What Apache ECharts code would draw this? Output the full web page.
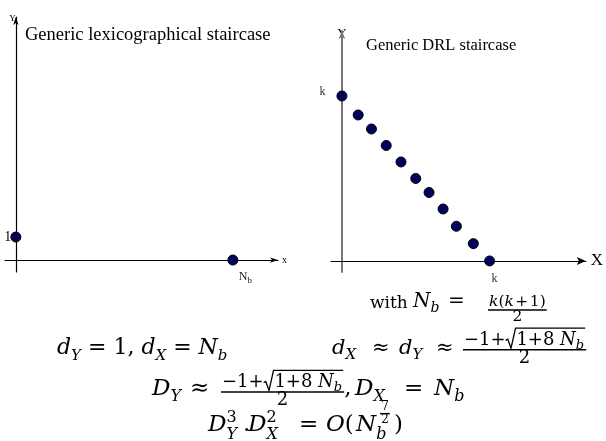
<!DOCTYPE html>
<html>
<head>
<meta charset="utf-8">
<script src="https://cdn.jsdelivr.net/npm/echarts@6/dist/echarts.min.js"></script>
<style>
  html, body { margin: 0; background: #fff; }
  #chart { width: 606px; height: 441px; }
</style>
</head>
<body>
<div id="chart"></div>
<script>
/* ---------- data ---------- */
const titles = ["Generic lexicographical staircase", "Generic DRL staircase"];

// lexicographical staircase: one step of height 1, then run to N_b (N_b drawn at 10)
const lexX = [0, 10];
const lexY = [1, 0];
const lexLabels = ["1", "{n|N}{s|b}"];

// DRL staircase: from (0, k) down to (k, 0), k drawn at 10
const drlX = [0, 1.1, 2.0, 3.0, 4.0, 5.0, 5.9, 6.85, 7.75, 8.9, 10];
const drlY = [10, 8.85, 8.0, 7.0, 6.0, 5.0, 4.15, 3.15, 2.1, 1.05, 0];
const drlLabels = ["k", "", "", "", "", "", "", "", "", "", "k"];

const SERIF = "Liberation Serif";
const DOT = "#00005e";

/* ---------- math text (typeset by hand with graphic elements) ---------- */
const MATH = "DejaVu Serif";
const mctx = document.createElement("canvas").getContext("2d");
const MID = 0.34; // baseline -> middle of em box, as a fraction of size

function textW(t, size, it) {
  mctx.font = (it ? "italic " : "") + size + 'px "' + MATH + '"';
  return mctx.measureText(t).width;
}

function putText(out, t, x, base, size, it) {
  if (out) out.push({
    type: "text", x: x, y: base - MID * size, silent: true,
    style: { text: t, fontFamily: MATH, fontSize: size, fontStyle: it ? "italic" : "normal",
      fill: "#000", align: "left", verticalAlign: "middle" },
  });
  return textW(t, size, it);
}

function frac(out, num, den, x, barY, fs) {
  const wn = flow(null, num, 0, 0, fs), wd = flow(null, den, 0, 0, fs);
  const w = Math.max(wn, wd) + 2;
  flow(out, num, x + (w - wn) / 2, barY - fs * 0.2, fs);
  flow(out, den, x + (w - wd) / 2, barY + fs * 0.82, fs);
  if (out) out.push({ type: "line", silent: true,
    shape: { x1: x, y1: barY, x2: x + w, y2: barY }, style: { stroke: "#000", lineWidth: 1.5 } });
  return w;
}

function sqrt(out, inner, x, base, size) {
  const off = size * 0.6;
  const wi = flow(out, inner, x + off, base, size);
  const top = base - size * 1.0;
  if (out) out.push({ type: "polyline", silent: true,
    shape: { points: [[x, base - size * 0.32], [x + size * 0.12, base - size * 0.38],
      [x + size * 0.3, base + size * 0.12], [x + size * 0.55, top], [x + off + wi + 1, top]] },
    style: { stroke: "#000", lineWidth: 1.3, fill: null } });
  return off + wi + 1;
}

function flow(out, toks, x, base, size) {
  let cx = x;
  const ss = Math.round(size * 0.7);
  toks.forEach((tk) => {
    if (tk.at !== undefined) cx = tk.at;
    else if (tk.gap) cx += tk.gap;
    else if (tk.frac) cx += frac(out, tk.frac[0], tk.frac[1], cx, base - size * tk.axis, tk.fs || size);
    else if (tk.sqrt) cx += sqrt(out, tk.sqrt, cx, base, size);
    else if (tk.t !== undefined) {
      if (tk.lo) cx += putText(out, tk.t, cx, base + size * 0.22, ss, tk.i);
      else cx += putText(out, tk.t, cx, base, tk.sz || size, tk.i);
    } else {
      // stacked sub/superscripts
      let w = 0;
      if (tk.lo) w = Math.max(w, putText(out, tk.lo, cx, base + size * 0.3, ss, true));
      if (tk.hi) w = Math.max(w, putText(out, tk.hi, cx, base - size * 0.42, ss, false));
      if (tk.hiFrac) w = Math.max(w, frac(out, [{ t: tk.hiFrac[0] }], [{ t: tk.hiFrac[1] }],
        cx + 4, base - size * 0.84, 12) + 4);
      cx += w;
    }
  });
  return cx - x;
}

const I = (t) => ({ t: t, i: 1 });
const R = (t) => ({ t: t });
const SUB = (t) => ({ t: t, i: 1, lo: 1 });
const AT = (x) => ({ at: x });
const ROOT = () => [R("\u22121+"), { sqrt: [R("1+8 "), I("N"), SUB("b")] }];

const mathRows = [
  { x: 370, base: 309, size: 20, toks: [{ t: "with", sz: 17 }, AT(413), I("N"), SUB("b"), AT(448), R("="),
      AT(488), { frac: [[I("k"), R("("), I("k"), { gap: 1.5 }, R("+"), { gap: 1.5 }, R("1)")], [R("2")]], fs: 15.5, axis: -0.05 }] },
  { x: 57, base: 356, size: 22, toks: [I("d"), SUB("Y"), R(" = 1, "), I("d"), SUB("X"), R(" = "), I("N"), SUB("b")] },
  { x: 332, base: 356, size: 21, toks: [I("d"), SUB("X"), AT(372), R("\u2248"), AT(399), I("d"), SUB("Y"),
      AT(436), R("\u2248"), AT(463), { frac: [ROOT(), [R("2")]], fs: 18, axis: 0.3 }] },
  { x: 152, base: 397, size: 23, toks: [I("D"), SUB("Y"), AT(190), R("\u2248"), AT(221),
      { frac: [ROOT(), [R("2")]], fs: 18, axis: 0.22 }, R(","), AT(355), I("D"), SUB("X"),
      AT(404), R("="), AT(434), I("N"), SUB("b")] },
  { x: 208, base: 433, size: 23, toks: [I("D"), { lo: "Y", hi: "3" }, AT(243), R("."), AT(248), I("D"),
      { lo: "X", hi: "2" }, AT(299), R("="), AT(326), I("O"), R("("), AT(356), I("N"),
      { lo: "b", hiFrac: ["7", "2"] }, AT(394), R(")")] },
];

const mathEls = [];
mathRows.forEach((r) => flow(mathEls, r.toks, r.x, r.base, r.size));

/* ---------- series data ---------- */
function lexItems() {
  return lexX.map((x, i) => ({
    value: [x, lexY[i]],
    label: i === 0
      ? { show: true, position: "inside", offset: [-8, 0], formatter: lexLabels[i], fontSize: 14, fontFamily: SERIF, color: "#000" }
      : { show: true, position: "inside", offset: [12.5, 18], formatter: lexLabels[i],
          rich: {
            n: { fontSize: 12, fontFamily: SERIF, color: "#222", lineHeight: 14, verticalAlign: "top" },
            s: { fontSize: 9, fontFamily: SERIF, color: "#222", lineHeight: 10, verticalAlign: "bottom" },
          } },
  }));
}

function drlItems() {
  return drlX.map((x, i) => {
    const it = { value: [x, drlY[i]] };
    if (drlLabels[i]) {
      it.label = { show: true, position: "inside", formatter: drlLabels[i], fontSize: 12,
        fontFamily: SERIF, color: "#333", offset: i === 0 ? [-19.5, -4] : [5, 18] };
    }
    return it;
  });
}

function axisLine(color, width, arrow) {
  return { onZero: true, symbol: ["none", "arrow"], symbolSize: arrow, lineStyle: { color: color, width: width } };
}
const hidden = { axisTick: { show: false }, axisLabel: { show: false }, splitLine: { show: false } };

/* ---------- chart ---------- */
const chart = echarts.init(document.getElementById("chart"), null, { renderer: "canvas" });
chart.setOption({
  animation: false,
  title: [
    { text: titles[0], left: 25, top: 26, padding: 0,
      textStyle: { fontFamily: SERIF, fontSize: 18.5, fontWeight: "normal", color: "#000" } },
    { text: titles[1], left: 366, top: 37, padding: 0,
      textStyle: { fontFamily: SERIF, fontSize: 16.5, fontWeight: "normal", color: "#000" } },
  ],
  grid: [
    { left: 5, top: 17, width: 273, height: 255 },
    { left: 331, top: 31, width: 257, height: 241 },
  ],
  xAxis: [
    Object.assign({ gridIndex: 0, type: "value", min: -0.5, max: 12.08, name: "x", nameGap: 4,
      nameTextStyle: { fontFamily: SERIF, fontSize: 10, color: "#000", verticalAlign: "middle", padding: [8, 0, 0, 0] },
      axisLine: axisLine("#000", 1.2, [4, 8]) }, hidden),
    Object.assign({ gridIndex: 1, type: "value", min: -0.74, max: 16.51, name: "X", nameGap: 5,
      nameTextStyle: { fontFamily: SERIF, fontSize: 17, color: "#000", verticalAlign: "middle" },
      axisLine: axisLine("#000", 1.2, [6, 9]) }, hidden),
  ],
  yAxis: [
    Object.assign({ gridIndex: 0, type: "value", min: -0.52, max: 10.57, name: "Y", nameGap: -2,
      nameTextStyle: { fontFamily: SERIF, fontSize: 9, color: "#000", align: "right", verticalAlign: "middle" },
      axisLine: axisLine("#000", 1.2, [4, 8]) }, hidden),
    Object.assign({ gridIndex: 1, type: "value", min: -0.67, max: 13.94, name: "Y", nameGap: -3,
      nameTextStyle: { fontFamily: SERIF, fontSize: 13, color: "#000", align: "center", verticalAlign: "middle" },
      axisLine: axisLine("#777", 2, [5, 8]) }, hidden),
  ],
  series: [
    { type: "scatter", xAxisIndex: 0, yAxisIndex: 0, symbolSize: 10, data: lexItems(),
      itemStyle: { color: DOT, borderColor: "#000", borderWidth: 1, opacity: 1 } },
    { type: "scatter", xAxisIndex: 1, yAxisIndex: 1, symbolSize: 10, data: drlItems(),
      itemStyle: { color: DOT, borderColor: "#000", borderWidth: 1, opacity: 1 } },
  ],
  graphic: mathEls,
});
</script>
</body>
</html>
